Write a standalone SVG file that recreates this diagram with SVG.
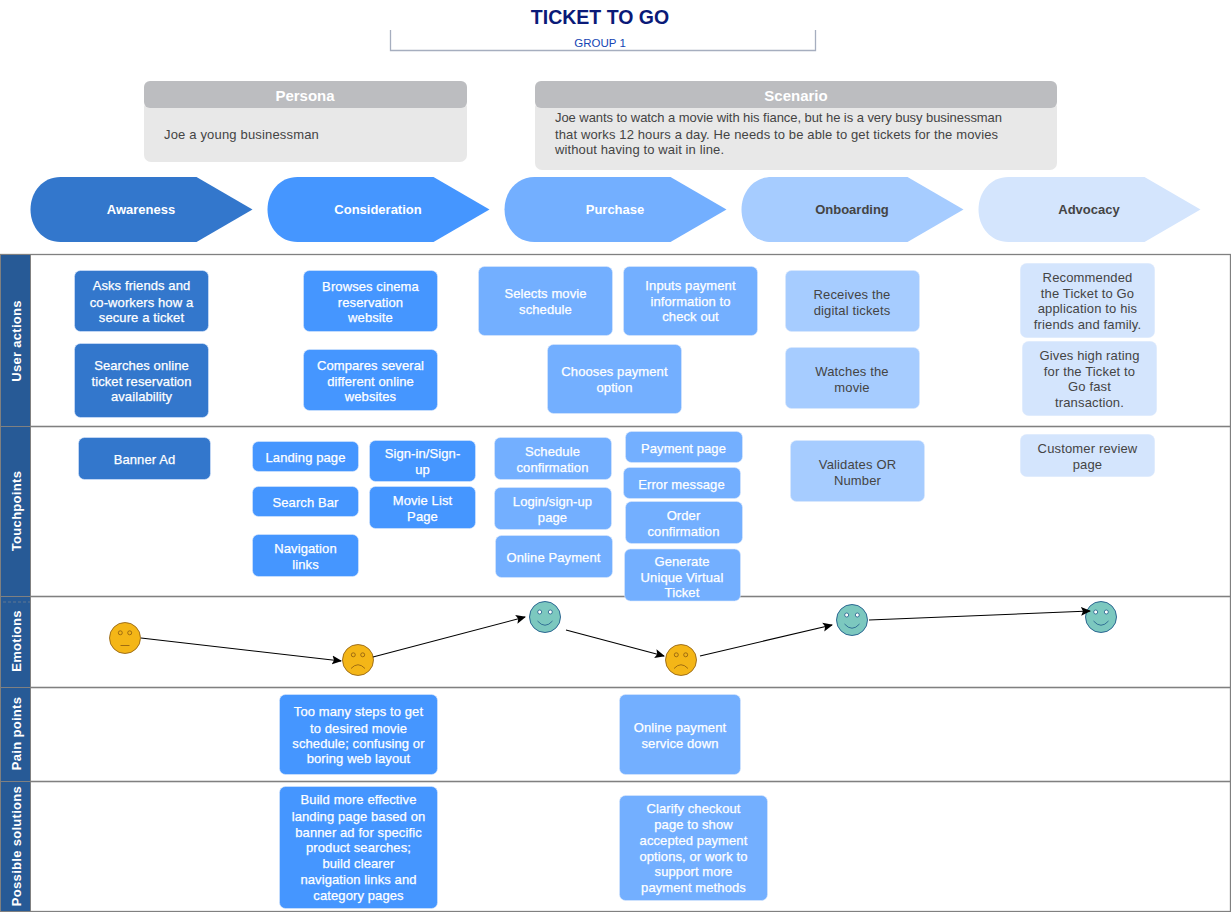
<svg xmlns="http://www.w3.org/2000/svg" width="1231" height="912" viewBox="0 0 1231 912">
<style>
text{font-family:"Liberation Sans",Arial,sans-serif;font-size:13px;text-anchor:middle;fill:#fff}
g[id^="n"] text{stroke:#fff;stroke-width:.25px;letter-spacing:.1px}
g[id^="n"] text.dk{stroke:none;fill:#444;letter-spacing:.15px}
.b{stroke:#dae8fc;stroke-opacity:.6;stroke-width:1}
.c1{fill:#3377CC}.c2{fill:#4596FF}.c3{fill:#73AFFF}.c4{fill:#A6CCFF}.c5{fill:#D4E5FD}
text.dk{fill:#444}
.row{fill:none;stroke:#808080;stroke-width:1.3}
.hd{fill:#275A96;stroke:#808080;stroke-width:1}
.hd-t{font-weight:bold;font-size:13px;letter-spacing:.3px}
.st{font-weight:bold}
.y{fill:#F4B617;stroke:#8a5a10;stroke-width:.8}
.g{fill:#7CC8BF;stroke:#1f5a8a;stroke-width:.9}
.f{fill:none;stroke-width:.8}
.eo{fill:none;stroke-width:.8}
.eg{fill:#fff;stroke-width:.8}
.cn{fill:none;stroke:#000;stroke-width:1.1;marker-end:url(#a)}
.sc{text-anchor:start;fill:#444}
</style>
<defs>
<marker id="a" viewBox="0 0 10 10" refX="9" refY="5" markerWidth="10" markerHeight="10" markerUnits="userSpaceOnUse" orient="auto"><path d="M0 0.5L10 5L0 9.5L2 5Z" fill="#000"/></marker>
<path id="chev" d="M30 0H166L222 32.500L166 65H30C12 65 0 50 0 32.500C0 15 12 0 30 0Z"/>
</defs>
<rect width="1231" height="912" fill="#fff"/>
<g id="title">
<text x="600" y="24" style="font-size:19.500px;font-weight:bold;fill:#0A1A78">TICKET TO GO</text>
<path d="M390.500 30V50.500H815.500V30" fill="none" stroke="#A6AEBF" stroke-width="1.300"/>
<text x="600" y="47" style="font-size:11.500px;fill:#1546B4">GROUP 1</text>
</g>
<g id="persona">
<rect x="144" y="100" width="323" height="62" rx="7" fill="#E8E8E8"/>
<rect x="144" y="81" width="323" height="27" rx="6" fill="#BCBDC0"/>
<text x="305" y="101" style="font-size:15px;font-weight:bold">Persona</text>
<text x="241.500" y="139" style="fill:#444;letter-spacing:.17px">Joe a young businessman</text>
</g>
<g id="scenario">
<rect x="535" y="100" width="522" height="70" rx="7" fill="#E8E8E8"/>
<rect x="535" y="81" width="522" height="27" rx="6" fill="#BCBDC0"/>
<text x="796" y="101" style="font-size:15px;font-weight:bold">Scenario</text>
<text x="555" y="122" class="sc" textLength="447">Joe wants to watch a movie with his fiance, but he is a very busy businessman</text>
<text x="555" y="139" class="sc" textLength="443">that works 12 hours a day. He needs to be able to get tickets for the movies</text>
<text x="555" y="154" class="sc" textLength="169">without having to wait in line.</text>
</g>
<g id="phases">
<g id="phase-awareness"><use href="#chev" x="30.500" y="177" class="c1"/><text x="141" y="214" class="st">Awareness</text></g>
<g id="phase-consideration"><use href="#chev" x="267.500" y="177" class="c2"/><text x="378" y="214" class="st">Consideration</text></g>
<g id="phase-purchase"><use href="#chev" x="504.500" y="177" class="c3"/><text x="615" y="214" class="st">Purchase</text></g>
<g id="phase-onboarding"><use href="#chev" x="741.500" y="177" class="c4"/><text x="852" y="214" class="st dk">Onboarding</text></g>
<g id="phase-advocacy"><use href="#chev" x="978.500" y="177" class="c5"/><text x="1089" y="214" class="st dk">Advocacy</text></g>
</g>
<g id="lanes">
<rect x="0.500" y="254.500" width="1230" height="172" class="row"/>
<rect x="0.500" y="426.500" width="1230" height="170" class="row"/>
<rect x="0.500" y="596.500" width="1230" height="91" class="row"/>
<rect x="0.500" y="687.500" width="1230" height="94" class="row"/>
<rect x="0.500" y="781.500" width="1230" height="130" class="row"/>
<rect x="0.500" y="254.500" width="30" height="172" class="hd"/>
<rect x="0.500" y="426.500" width="30" height="170" class="hd"/>
<rect x="0.500" y="596.500" width="30" height="91" class="hd"/>
<rect x="0.500" y="687.500" width="30" height="94" class="hd"/>
<rect x="0.500" y="781.500" width="30" height="130" class="hd"/>
<path d="M3 602H30" stroke="#6f7f92" stroke-width=".8" stroke-dasharray="3 2" fill="none"/>
<text transform="translate(20.500 341) rotate(-90)" class="hd-t">User actions</text>
<text transform="translate(20.500 511) rotate(-90)" class="hd-t">Touchpoints</text>
<text transform="translate(20.500 641) rotate(-90)" class="hd-t">Emotions</text>
<text transform="translate(20.500 733.500) rotate(-90)" class="hd-t">Pain points</text>
<text transform="translate(20.500 846) rotate(-90)" class="hd-t">Possible solutions</text>
</g>
<g id="n1"><rect x="74.500" y="270.500" width="134" height="61" rx="6" class="c1 b"/><text x="141.500" y="290">Asks friends and</text><text x="141.500" y="307">co-workers how a</text><text x="141.500" y="322">secure a ticket</text></g>
<g id="n2"><rect x="74.500" y="343.500" width="134" height="74" rx="6" class="c1 b"/><text x="141.500" y="370">Searches online</text><text x="141.500" y="386">ticket reservation</text><text x="141.500" y="401">availability</text></g>
<g id="n3"><rect x="303.500" y="270.500" width="134" height="61" rx="6" class="c2 b"/><text x="370.500" y="291">Browses cinema</text><text x="370.500" y="307">reservation</text><text x="370.500" y="322">website</text></g>
<g id="n4"><rect x="303.500" y="349.500" width="134" height="61" rx="6" class="c2 b"/><text x="370.500" y="370">Compares several</text><text x="370.500" y="386">different online</text><text x="370.500" y="401">websites</text></g>
<g id="n5"><rect x="478.500" y="266.500" width="134" height="69" rx="6" class="c3 b"/><text x="545.500" y="298">Selects movie</text><text x="545.500" y="314">schedule</text></g>
<g id="n6"><rect x="623.500" y="266.500" width="134" height="69" rx="6" class="c3 b"/><text x="690.500" y="290">Inputs payment</text><text x="690.500" y="306">information to</text><text x="690.500" y="321">check out</text></g>
<g id="n7"><rect x="547.500" y="344.500" width="134" height="69" rx="6" class="c3 b"/><text x="614.500" y="376">Chooses payment</text><text x="614.500" y="392">option</text></g>
<g id="n8"><rect x="785.500" y="270.500" width="134" height="61" rx="6" class="c4 b"/><text x="852" y="299" class="dk">Receives the</text><text x="852" y="315" class="dk">digital tickets</text></g>
<g id="n9"><rect x="785.500" y="347.500" width="134" height="61" rx="6" class="c4 b"/><text x="852" y="376" class="dk">Watches the</text><text x="852" y="392" class="dk">movie</text></g>
<g id="n10"><rect x="1020.500" y="263.500" width="134" height="74" rx="6" class="c5 b"/><text x="1087.500" y="282" class="dk">Recommended</text><text x="1087.500" y="298" class="dk">the Ticket to Go</text><text x="1087.500" y="313" class="dk">application to his</text><text x="1087.500" y="329" class="dk">friends and family.</text></g>
<g id="n11"><rect x="1022.500" y="341.500" width="134" height="74" rx="6" class="c5 b"/><text x="1089.500" y="360" class="dk">Gives high rating</text><text x="1089.500" y="376" class="dk">for the Ticket to</text><text x="1089.500" y="391" class="dk">Go fast</text><text x="1089.500" y="407" class="dk">transaction.</text></g>
<g id="n12"><rect x="78.500" y="437.500" width="132" height="42" rx="6" class="c1 b"/><text x="144.500" y="464">Banner Ad</text></g>
<g id="n13"><rect x="252.500" y="441.500" width="106" height="30" rx="6" class="c2 b"/><text x="305.500" y="462">Landing page</text></g>
<g id="n14"><rect x="252.500" y="486.500" width="106" height="30" rx="6" class="c2 b"/><text x="305.500" y="507">Search Bar</text></g>
<g id="n15"><rect x="252.500" y="534.500" width="106" height="42" rx="6" class="c2 b"/><text x="305.500" y="553">Navigation</text><text x="305.500" y="569">links</text></g>
<g id="n16"><rect x="369.500" y="440.500" width="106" height="41" rx="6" class="c2 b"/><text x="422.500" y="458">Sign-in/Sign-</text><text x="422.500" y="474">up</text></g>
<g id="n17"><rect x="369.500" y="486.500" width="106" height="42" rx="6" class="c2 b"/><text x="422.500" y="505">Movie List</text><text x="422.500" y="521">Page</text></g>
<g id="n18"><rect x="494.500" y="437.500" width="117" height="42" rx="6" class="c3 b"/><text x="552.500" y="456">Schedule</text><text x="552.500" y="472">confirmation</text></g>
<g id="n19"><rect x="494.500" y="487.500" width="117" height="42" rx="6" class="c3 b"/><text x="552.500" y="506">Login/sign-up</text><text x="552.500" y="522">page</text></g>
<g id="n20"><rect x="495.500" y="535.500" width="117" height="42" rx="6" class="c3 b"/><text x="553.500" y="562">Online Payment</text></g>
<g id="n21"><rect x="625.500" y="431.500" width="117" height="31" rx="6" class="c3 b"/><text x="683.500" y="453">Payment page</text></g>
<g id="n22"><rect x="623.500" y="467.500" width="117" height="31" rx="6" class="c3 b"/><text x="681.500" y="489">Error message</text></g>
<g id="n23"><rect x="625.500" y="501.500" width="117" height="42" rx="6" class="c3 b"/><text x="683.500" y="520">Order</text><text x="683.500" y="536">confirmation</text></g>
<g id="n24"><rect x="624.500" y="549" width="116" height="52" rx="6" class="c3 b"/><text x="682" y="566">Generate</text><text x="682" y="582">Unique Virtual</text><text x="682" y="597">Ticket</text></g>
<g id="n25"><rect x="790.500" y="440.500" width="134" height="61" rx="6" class="c4 b"/><text x="857.500" y="469" class="dk">Validates OR</text><text x="857.500" y="485" class="dk">Number</text></g>
<g id="n26"><rect x="1020.500" y="434.500" width="134" height="42" rx="6" class="c5 b"/><text x="1087.500" y="453" class="dk">Customer review</text><text x="1087.500" y="469" class="dk">page</text></g>
<g id="n27"><rect x="279.500" y="694.500" width="158" height="80" rx="6" class="c2 b"/><text x="358.500" y="716">Too many steps to get</text><text x="358.500" y="733">to desired movie</text><text x="358.500" y="748">schedule; confusing or</text><text x="358.500" y="763">boring web layout</text></g>
<g id="n28"><rect x="619.500" y="694.500" width="121" height="80" rx="6" class="c3 b"/><text x="680" y="732">Online payment</text><text x="680" y="748">service down</text></g>
<g id="n29"><rect x="279.500" y="786.500" width="158" height="122" rx="6" class="c2 b"/><text x="358.500" y="804">Build more effective</text><text x="358.500" y="821">landing page based on</text><text x="358.500" y="837">banner ad for specific</text><text x="358.500" y="852">product searches;</text><text x="358.500" y="868">build clearer</text><text x="358.500" y="884">navigation links and</text><text x="358.500" y="900">category pages</text></g>
<g id="n30"><rect x="619.500" y="795.500" width="148" height="105" rx="6" class="c3 b"/><text x="693.500" y="813">Clarify checkout</text><text x="693.500" y="829">page to show</text><text x="693.500" y="845">accepted payment</text><text x="693.500" y="861">options, or work to</text><text x="693.500" y="876">support more</text><text x="693.500" y="892">payment methods</text></g>
<g id="emotion-1"><circle cx="125" cy="638" r="15.500" class="y"/><circle cx="120.300" cy="632.800" r="2" class="eo" stroke="#8a5a10"/><circle cx="129.700" cy="632.800" r="2" class="eo" stroke="#8a5a10"/><path d="M120.500 645.500H129.500" stroke="#8a5a10" class="f"/></g>
<g id="emotion-2"><circle cx="358" cy="660" r="15.500" class="y"/><circle cx="353.300" cy="654.800" r="2" class="eo" stroke="#8a5a10"/><circle cx="362.700" cy="654.800" r="2" class="eo" stroke="#8a5a10"/><path d="M351 668.500Q358 661 365 668.500" stroke="#8a5a10" class="f"/></g>
<g id="emotion-3"><circle cx="545" cy="617" r="15.500" class="g"/><circle cx="539.700" cy="612" r="2" class="eg" stroke="#1f5a8a"/><circle cx="550.300" cy="612" r="2" class="eg" stroke="#1f5a8a"/><path d="M537.500 621Q545 629.500 552.500 621" stroke="#1f5a8a" class="f"/></g>
<g id="emotion-4"><circle cx="681" cy="660" r="15.500" class="y"/><circle cx="676.300" cy="654.800" r="2" class="eo" stroke="#8a5a10"/><circle cx="685.700" cy="654.800" r="2" class="eo" stroke="#8a5a10"/><path d="M674 668.500Q681 661 688 668.500" stroke="#8a5a10" class="f"/></g>
<g id="emotion-5"><circle cx="852" cy="620" r="15.500" class="g"/><circle cx="846.700" cy="615" r="2" class="eg" stroke="#1f5a8a"/><circle cx="857.300" cy="615" r="2" class="eg" stroke="#1f5a8a"/><path d="M844.500 624Q852 632.500 859.500 624" stroke="#1f5a8a" class="f"/></g>
<g id="emotion-6"><circle cx="1101" cy="617" r="15.500" class="g"/><circle cx="1095.700" cy="612" r="2" class="eg" stroke="#1f5a8a"/><circle cx="1106.300" cy="612" r="2" class="eg" stroke="#1f5a8a"/><path d="M1093.500 621Q1101 629.500 1108.500 621" stroke="#1f5a8a" class="f"/></g>
<g id="connectors">
<path class="cn" d="M141 638L341 661"/>
<path class="cn" d="M373 657L525 617"/>
<path class="cn" d="M566 630L664 656"/>
<path class="cn" d="M700 656L832 625"/>
<path class="cn" d="M869 620L1090 611"/>
</g>
</svg>
